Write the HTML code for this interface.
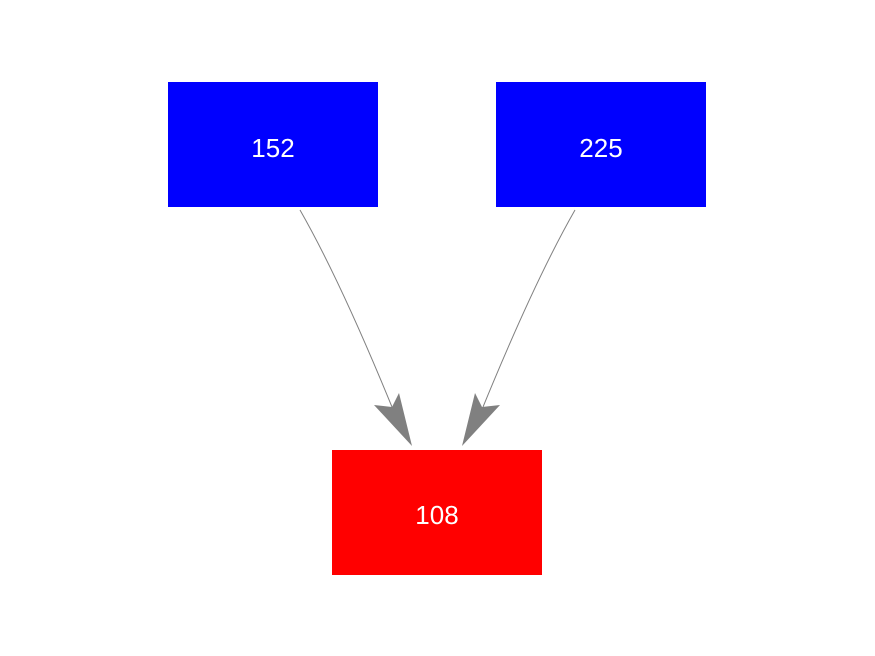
<!DOCTYPE html>
<html><head><style>
html,body{margin:0;padding:0;background:#fff;width:875px;height:656px;overflow:hidden}
</style></head><body>
<svg width="875" height="656" xmlns="http://www.w3.org/2000/svg">
<rect x="168" y="82" width="210" height="125" fill="#0000ff"/>
<rect x="496" y="82" width="210" height="125" fill="#0000ff"/>
<rect x="332" y="450" width="210" height="125" fill="#ff0000"/>
<g font-family="Liberation Sans, sans-serif" font-size="26" fill="#fff" text-anchor="middle">
<text x="273" y="157">152</text>
<text x="601" y="157">225</text>
<text x="437" y="524">108</text>
</g>
<path d="M300,210 Q340,280 392,407" fill="none" stroke="#808080" stroke-width="1"/>
<path d="M575,210 Q535,280 483,407" fill="none" stroke="#808080" stroke-width="1"/>
<polygon points="374,405 392,407 399,393 412,446" fill="#808080"/>
<polygon points="500,405 482,407 475,393 462,446" fill="#808080"/>
</svg>
</body></html>
